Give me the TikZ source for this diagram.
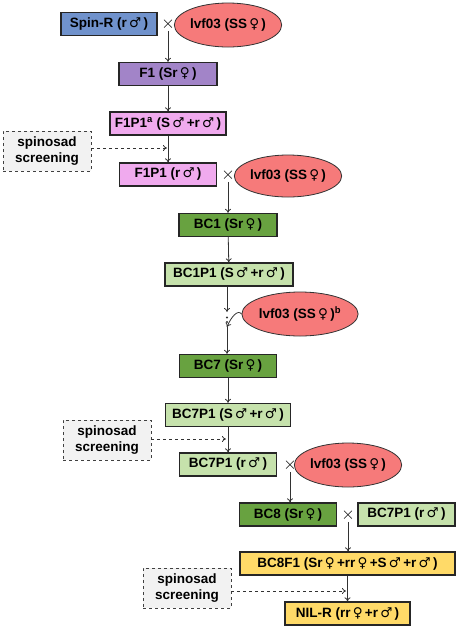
\documentclass[tikz,border=0pt]{standalone}
\usepackage{fontspec}
\setmainfont{Liberation Sans}
\newfontfamily\symf{DejaVu Sans}
\usetikzlibrary{shapes.geometric,arrows.meta}
\newcommand{\ma}{\,{\symf\bfseries ♂}\,}
\newcommand{\fe}{\,{\symf\bfseries ♀}\,}
\definecolor{cblue}{RGB}{112,146,204}
\definecolor{cpurple}{RGB}{162,132,200}
\definecolor{cpink}{RGB}{240,170,238}
\definecolor{cred}{RGB}{246,122,122}
\definecolor{cdgreen}{RGB}{104,162,64}
\definecolor{clgreen}{RGB}{198,226,172}
\definecolor{cyellow}{RGB}{255,218,104}
\definecolor{cline}{RGB}{50,50,50}
\begin{document}
\begin{tikzpicture}[x=1pt,y=-1pt,
  box/.style={draw=black!85, line width=1.3pt, minimum height=23pt, inner sep=0pt,
    font=\bfseries\fontsize{13.5}{15}\selectfont},
  ell/.style={ellipse, draw=black!80, line width=0.8pt, fill=cred, minimum width=99pt,
    minimum height=44pt, inner sep=0pt, font=\bfseries\fontsize{13.5}{15}\selectfont},
  screen/.style={draw=black!75, dashed, line width=0.8pt, fill=black!5, minimum width=88pt,
    minimum height=40pt, inner sep=0pt, align=center,
    font=\bfseries\fontsize{13.5}{16}\selectfont},
  cross/.style={inner sep=1pt, font=\fontsize{17}{17}\selectfont},
  arr/.style={draw=cline, line width=0.8pt, -{To[length=4pt,width=6pt]}},
  darr/.style={draw=cline, line width=0.8pt, dashed, -{To[length=4pt,width=6pt]}}]
\useasboundingbox (0,0) rectangle (459,633);
% top
\node[box, fill=cblue, minimum width=96pt] (spinR) at (109,24) {Spin-R (r\ma)};
\node[cross] (c1) at (168,24) {$\times$};
\node[ell] (lv1) at (228,25) {lvf03 (SS\fe)};
\node[box, fill=cpurple, minimum width=98pt] (F1) at (168,74) {F1 (Sr\fe)};
\node[box, fill=cpink, minimum width=116pt] (F1P1a) at (168,123.5) {F1P1\textsuperscript{a} (S\ma+r\ma)};
\node[box, fill=cpink, minimum width=97pt] (F1P1) at (168,174.5) {F1P1 (r\ma)};
\node[cross] (c2) at (228,175) {$\times$};
\node[ell, minimum width=98pt, minimum height=42pt] (lv2) at (288,176) {lvf03 (SS\fe)};
\node[screen] (s1) at (47,151) {spinosad\\screening};
\coordinate (t1) at (167,148);
% BC
\node[box, fill=cdgreen, minimum width=98pt] (BC1) at (228,225) {BC1 (Sr\fe)};
\node[box, fill=clgreen, minimum width=128pt] (BC1P1) at (229,274.5) {BC1P1 (S\ma+r\ma)};
\coordinate (d1) at (227,312);
\coordinate (d2) at (227,327);
\fill[cline] (227,317.5) circle (1.1pt) (227,322) circle (1.1pt);
\node[ell, minimum width=96pt] (lv3) at (300,314) {lvf03 (SS\fe)\textsuperscript{b}};
\node[box, fill=cdgreen, minimum width=97pt] (BC7) at (228,366) {BC7 (Sr\fe)};
\node[box, fill=clgreen, minimum width=125pt] (BC7P1a) at (228,415) {BC7P1 (S\ma+r\ma)};
\node[screen] (s2) at (107,440) {spinosad\\screening};
\coordinate (t2) at (226,439);
\node[box, fill=clgreen, minimum width=97pt] (BC7P1) at (228,464.5) {BC7P1 (r\ma)};
\node[cross] (c3) at (290,465) {$\times$};
\node[ell] (lv4) at (348,465) {lvf03 (SS\fe)};
\node[box, fill=cdgreen, minimum width=97pt] (BC8) at (288,514.5) {BC8 (Sr\fe)};
\node[cross] (c4) at (348,515) {$\times$};
\node[box, fill=clgreen, minimum width=97pt] (BC7P1b) at (406.5,514.5) {BC7P1 (r\ma)};
\node[box, fill=cyellow, minimum width=215pt] (BC8F1) at (347.5,563.5) {BC8F1 (Sr\fe+rr\fe+S\ma+r\ma)};
\node[screen] (s3) at (187,588) {spinosad\\screening};
\coordinate (t3) at (346,591);
\node[box, fill=cyellow, minimum width=125pt] (NIL) at (347.5,613.5) {NIL-R (rr\fe+r\ma)};
% connectors
\draw[arr] (c1.south) -- (F1.north);
\draw[arr] (F1) -- (F1P1a);
\draw[arr] (F1P1a) -- (F1P1);
\draw[darr] (s1.east |- t1) -- (t1);
\draw[arr] (c2.south) -- (BC1.north);
\draw[arr] (BC1) -- (BC1P1);
\draw[arr] (BC1P1.south -| d1) -- (d1);
\draw[arr] (lv3.west) .. controls (238,309) and (231,317) .. (d2);
\draw[arr] (d2) -- (BC7.north -| d2);
\draw[arr] (BC7) -- (BC7P1a);
\draw[arr] (BC7P1a) -- (BC7P1);
\draw[darr] (s2.east |- t2) -- (t2);
\draw[arr] (c3.south) -- (BC8.north -| c3.south);
\draw[arr] (c4.south) -- (BC8F1.north -| c4.south);
\draw[arr] (BC8F1.south -| NIL.north) -- (NIL.north);
\draw[darr] (s3.east |- t3) -- (t3);
\end{tikzpicture}
\end{document}
